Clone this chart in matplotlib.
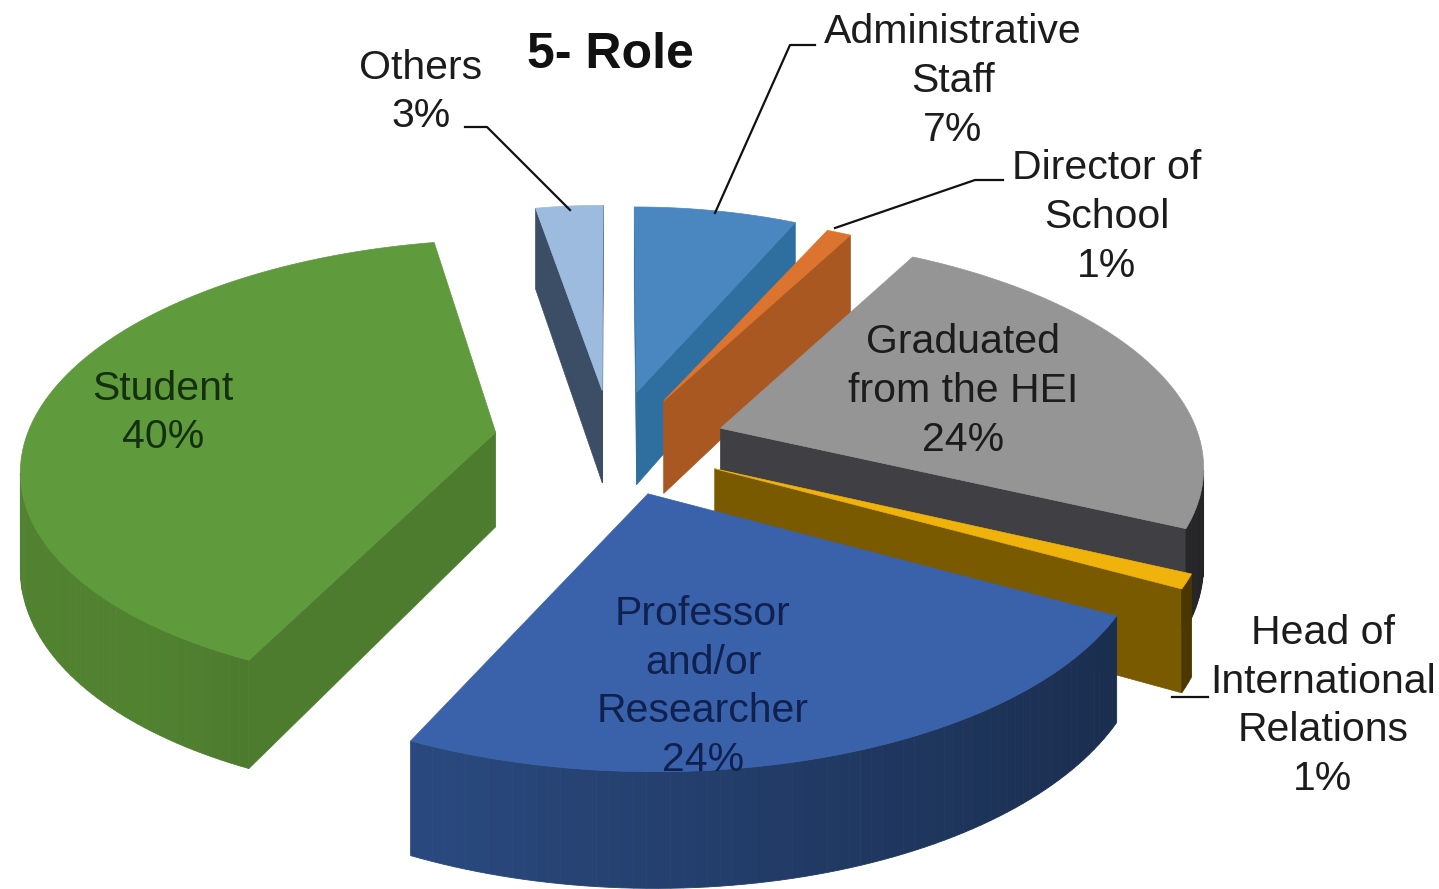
import numpy as np
import matplotlib
matplotlib.use("Agg")
import matplotlib.pyplot as plt
from matplotlib.colors import to_rgb
from matplotlib.patches import Polygon

# clockwise from 12 o'clock
roles = ["Administrative\nStaff", "Director of\nSchool", "Graduated\nfrom the HEI",
         "Head of\nInternational\nRelations", "Professor\nand/or\nResearcher", "Student", "Others"]
shares = [7, 1, 24, 1, 24, 40, 3]

top_colors = ["#4a86bf", "#dc7430", "#959595", "#efb30c", "#3a62aa", "#5f9a3c", "#9dbbdf"]
side_colors = ["#2f6f9f", "#a85820", "#3f3f44", "#7a5a00", "#2a4a80", "#4d7c2e", "#3b4e66"]
label_colors = ["#1c1c1c", "#1c1c1c", "#1c1c1c", "#1c1c1c", "#10214f", "#14300f", "#1c1c1c"]

# fake 3d projection, fitted by eye
cx, cy = 620, 440
ax_x, ax_y = 500, 225
persp = 0.15
depth = 95

# per slice nudges, excel's pie does not follow one clean projection
explode = [0.2, 0.2, 0.2, 0.2, 0.25, 0.26, 0.2]
radius = [1, 1, 1, 1, 1, 0.94, 1]
xscale = [0.88, 0.92, 0.96, 0.96, 0.948, 1, 0.85]
yscale = [1, 1, 1, 1, 0.97, 1.05, 1]
xshift = [-2, 3, 10, 8, -10, 4, -10]
yshift = [-5, 0, 2, 8, 0, 0, -6]


def wall_shade(theta, base):
    # outer wall gets darker towards the right of the pie
    k = min(1.05, 0.87 - 0.29 * np.sin(theta))
    return tuple(min(1, c * k) for c in to_rgb(base))


def plane_point(theta, r, mid, i):
    e = explode[i]
    u = e * np.sin(mid) + r * np.sin(theta)
    v = -(e * np.cos(mid) + r * np.cos(theta))
    s = 1 / (1 - persp * v)
    return (cx + xscale[i] * ax_x * u * s + xshift[i],
            cy + yscale[i] * ax_y * v * s + yshift[i], s)


def wall(a, b):
    return [(a[0], a[1]), (b[0], b[1]),
            (b[0], b[1] + depth * b[2]), (a[0], a[1] + depth * a[2])]


fig = plt.figure(figsize=(14.39, 8.89), dpi=100)
ax = fig.add_axes([0, 0, 1, 1])
ax.set_xlim(0, 1439)
ax.set_ylim(889, 0)
ax.axis("off")

edges = np.radians(np.cumsum([0] + shares) * 3.6)
# back slices first, professor last because it sits in front
for i in [6, 0, 1, 2, 3, 5, 4]:
    t0, t1 = edges[i], edges[i + 1]
    mid = (t0 + t1) / 2
    thetas = np.linspace(t0, t1, max(4, int(shares[i] * 3)))
    apex = plane_point(mid, 0, mid, i)
    rim = [plane_point(t, radius[i], mid, i) for t in thetas]

    # radial faces, only those turned to the viewer
    for a, b in [(apex, rim[0]), (rim[-1], apex)]:
        if b[0] < a[0]:
            ax.add_patch(Polygon(wall(a, b), fc=side_colors[i], ec=side_colors[i], lw=0.5))

    # outer wall, cut in strips for the shading
    for j in range(len(rim) - 1):
        a, b = rim[j], rim[j + 1]
        if b[0] < a[0]:
            col = wall_shade(thetas[j], side_colors[i])
            ax.add_patch(Polygon(wall(a, b), fc=col, ec=col, lw=0.6))

    top = [(apex[0], apex[1])] + [(p[0], p[1]) for p in rim]
    ax.add_patch(Polygon(top, fc=top_colors[i], ec=top_colors[i], lw=0.5))

# labels
plt.rcParams["font.family"] = ["Liberation Sans", "DejaVu Sans"]
label_xy = [(953, 81), (1107, 217), (963, 391), (1323, 706), (703, 687), (163, 413), (421, 92)]
for name, share, col, (x, y) in zip(roles, shares, label_colors, label_xy):
    ax.text(x, y, f"{name}\n{share}%", ha="center", va="center", fontsize=29.5,
            color=col, linespacing=1.36, zorder=50)

ax.text(610, 55, "5- Role", ha="center", va="center", fontsize=36, fontweight="bold",
        color="#111111", zorder=50)

# leader lines
leaders = [[(465, 127), (487, 127), (570, 210)],
           [(815, 45), (790, 45), (715, 213)],
           [(1003, 180), (975, 180), (835, 228)],
           [(1208, 697), (1172, 697)]]
for pts in leaders:
    xs, ys = zip(*pts)
    ax.plot(xs, ys, color="#111111", lw=1.6, zorder=40)

fig.savefig("out.png", dpi=100)
